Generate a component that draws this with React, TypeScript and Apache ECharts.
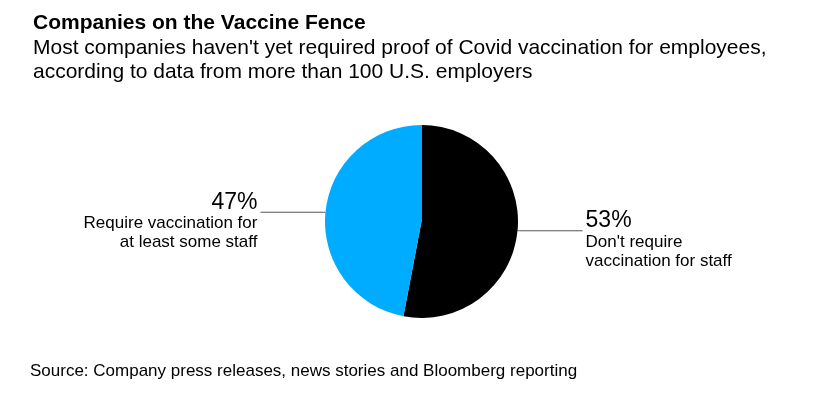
import React, { useEffect, useRef } from "react";
import * as echarts from "echarts";

const titleText = "Companies on the Vaccine Fence";
const subtitleText =
  "Most companies haven't yet required proof of Covid vaccination for employees,\naccording to data from more than 100 U.S. employers";
const sourceText = "Source: Company press releases, news stories and Bloomberg reporting";

const categories = ["Don't require\nvaccination for staff", "Require vaccination for\nat least some staff"];
const values = [53, 47];
const colors = ["#000000", "#00acff"];

const FONT = "'Liberation Sans', Arial, sans-serif";

export default function App() {
  const ref = useRef<HTMLDivElement>(null);
  useEffect(() => {
    const chart = echarts.init(ref.current!, null, { renderer: "svg" });
    chart.setOption({
      animation: false,
      title: [
        {
          text: titleText,
          left: 33,
          top: 11,
          padding: 0,
          textStyle: { fontFamily: FONT, fontSize: 21, fontWeight: "bold", color: "#000" },
        },
        {
          text: subtitleText,
          left: 33,
          top: 35,
          padding: 0,
          textStyle: { fontFamily: FONT, fontSize: 21, fontWeight: "normal", color: "#000", lineHeight: 23.5 },
        },
        {
          text: sourceText,
          left: 30,
          top: 362,
          padding: 0,
          textStyle: { fontFamily: FONT, fontSize: 17, fontWeight: "normal", color: "#000" },
        },
      ],
      series: [
        {
          type: "pie",
          center: [421.5, 221.5],
          radius: 96.5,
          startAngle: 90,
          clockwise: true,
          avoidLabelOverlap: false,
          emphasis: { disabled: true },
          data: values.map((v, i) => ({ value: v, name: categories[i], itemStyle: { color: colors[i] } })),
          label: {
            show: true,
            position: "outside",
            distanceToLabelLine: 3,
            padding: [16, 0, 0, 0],
            formatter: (p: any) => `{pct|${p.value}%}\n{desc|${p.name.split("\n").join("}\n{desc|")}}`,
            rich: {
              pct: { fontFamily: FONT, fontSize: 23, lineHeight: 24, color: "#000" },
              desc: { fontFamily: FONT, fontSize: 17, lineHeight: 19.5, color: "#000" },
            },
          },
          labelLine: {
            show: true,
            length: 2,
            length2: 63,
            lineStyle: { color: "#555", width: 1 },
          },
        },
      ],
    });
    return () => chart.dispose();
  }, []);
  return <div ref={ref} style={{ position: "fixed", left: 0, top: 0, width: 822, height: 407 }} />;
}
